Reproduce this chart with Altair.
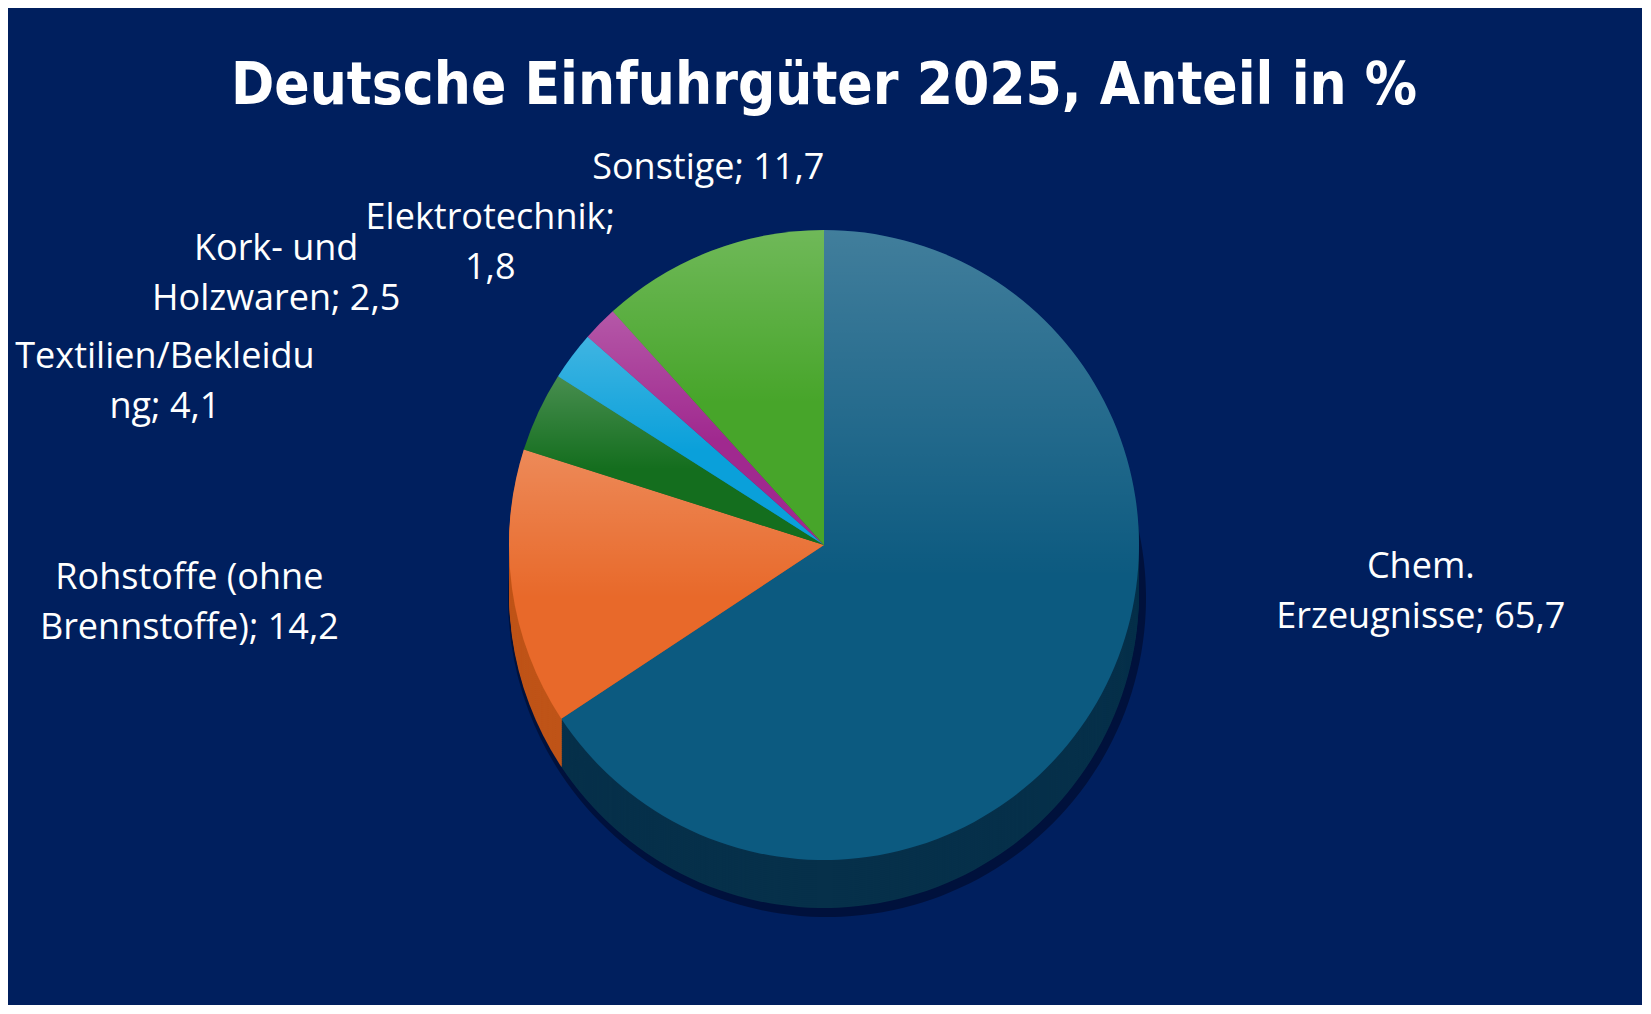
import math
import altair as alt
import pandas as pd

# ---- data ----
categories = ["Chem. Erzeugnisse", "Rohstoffe (ohne Brennstoffe)", "Textilien/Bekleidung",
              "Kork- und Holzwaren", "Elektrotechnik", "Sonstige"]
values = [65.7, 14.2, 4.1, 2.5, 1.8, 11.7]
# label text as wrapped in the reference (name part, separator)
label_heads = ["Chem.\nErzeugnisse", "Rohstoffe (ohne\nBrennstoffe)", "Textilien/Bekleidu\nng",
               "Kork- und\nHolzwaren", "Elektrotechnik", "Sonstige"]
label_seps = ["; ", "; ", "; ", "; ", ";\n", "; "]
TITLE = "Deutsche Einfuhrgüter 2025, Anteil in %"

# ---- styles ----
top_colors = ["#0C5A80", "#E8692A", "#146E1E", "#0AA0DA", "#A0298F", "#47A52A"]
side_colors = ["#06304A", "#BF5418", "#0D4A14", "#07739E", "#731E67", "#317A1C"]
BG = "#001F5E"
W, H = 1634, 997
CX, CY = 816, 537
R = 315
THICK = 48
FONT = "Open Sans"

labels = [h + s + str(v).replace(".", ",") for h, s, v in zip(label_heads, label_seps, values)]
df = pd.DataFrame({"category": categories, "value": values, "label": labels,
                   "idx": list(range(len(categories)))})

theta_scale = alt.Scale(domain=[0, 1], range=[0, 2 * math.pi])

base = (
    alt.Chart(df)
    .transform_window(cum="sum(value)", sort=[alt.SortField("idx")], frame=[None, 0])
    .transform_joinaggregate(total="sum(value)")
    .transform_calculate(
        f0="(datum.cum - datum.value) / datum.total",
        f1="datum.cum / datum.total",
        fm="(datum.cum - datum.value / 2) / datum.total",
    )
)

arc_enc = dict(theta=alt.Theta("f0:Q", scale=theta_scale), theta2=alt.Theta2("f1"))

layers = []

# soft shadow under the pie
layers.append(
    base.mark_arc(radius=R + 4, fill="#000014", opacity=0.45).encode(
        x=alt.value(CX + 3), y=alt.value(CY + THICK + 5), **arc_enc
    )
)

# pie thickness (side walls)
for off in range(THICK, 0, -2):
    layers.append(
        base.mark_arc(radius=R).encode(
            x=alt.value(CX), y=alt.value(CY + off),
            fill=alt.Fill("category:N", scale=alt.Scale(domain=categories, range=side_colors), legend=None),
            **arc_enc,
        )
    )

# top face
layers.append(
    base.mark_arc(radius=R).encode(
        x=alt.value(CX), y=alt.value(CY),
        color=alt.Color("category:N", scale=alt.Scale(domain=categories, range=top_colors), legend=None),
        **arc_enc,
    )
)

# sheen on the top face
sheen = alt.LinearGradient(
    gradient="linear",
    stops=[alt.GradientStop(color="rgba(255,255,255,0.22)", offset=0),
           alt.GradientStop(color="rgba(255,255,255,0)", offset=0.55)],
    x1=0, x2=0, y1=0, y2=1,
)
layers.append(
    base.mark_arc(radius=R, fill=sheen).encode(x=alt.value(CX), y=alt.value(CY), **arc_enc)
)

# data labels: radius and nudges per label (placement only)
label_place = {
    0: (480, 174, -205),
    1: (560, -80, -44),
    2: (500, -206, 23),
    3: (480, -164, -8),
    4: (455, -10, -7),
    5: (400, 28, -4),
}
for i, (rad, ddx, ddy) in label_place.items():
    layers.append(
        base.transform_filter(alt.datum.idx == i)
        .mark_text(radius=rad, dx=ddx, dy=ddy, font=FONT, fontSize=36, color="white",
                   align="center", baseline="middle", lineBreak="\n", lineHeight=50)
        .encode(x=alt.value(CX), y=alt.value(CY),
                theta=alt.Theta("fm:Q", scale=theta_scale), text="label:N")
    )

# title
title_layer = alt.Chart(alt.Data(values=[{"t": TITLE}])).mark_text(
    font="DejaVu Sans Condensed", fontWeight="bold", fontSize=58, color="white",
    align="center", baseline="alphabetic",
).encode(x=alt.value(CX), y=alt.value(96), text="t:N")
layers.append(title_layer)

chart = (
    alt.layer(*layers)
    .properties(width=W, height=H, padding=0, background=BG,
                autosize=alt.AutoSizeParams(type="none"))
    .configure_view(strokeWidth=0)
)

chart.save("out.html", embed_options={"renderer": "svg", "actions": False})
